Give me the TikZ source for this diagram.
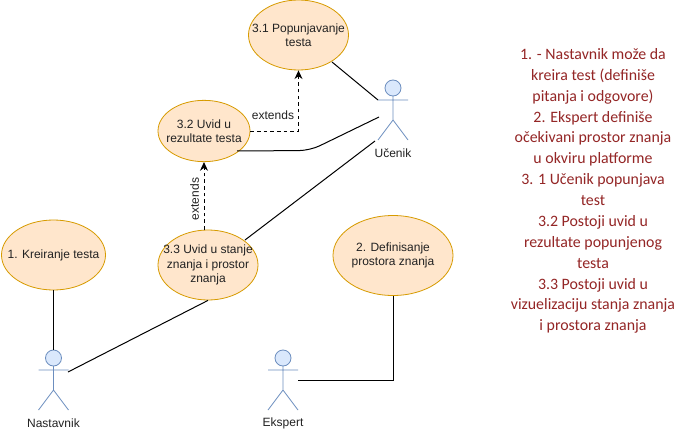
\documentclass[tikz,border=0pt]{standalone}
\usepackage{fontspec}
\setmainfont{Liberation Sans}
\newfontfamily\notefont{Carlito}
\usetikzlibrary{shapes.geometric,arrows.meta}
\definecolor{ucfill}{HTML}{FFE6CC}
\definecolor{ucline}{HTML}{D79B00}
\definecolor{acfill}{HTML}{DAE8FC}
\definecolor{acline}{HTML}{6C8EBF}
\definecolor{notered}{HTML}{942626}
\definecolor{txt}{HTML}{222222}
\tikzset{
  x=0.75pt,y=-0.75pt,
  usecase/.style={ellipse,draw=ucline,fill=ucfill,line width=0.6pt,inner sep=0pt},
  uclabel/.style={align=center,inner sep=0pt,font=\fontsize{9}{10.6}\selectfont,text=txt},
  link/.style={draw=black,line width=0.75pt},
  extline/.style={draw=black,line width=0.75pt,dashed,dash pattern=on 2.6pt off 2.4pt,-{Stealth[length=6.5pt,width=6pt]}},
  actorline/.style={draw=acline,line width=0.6pt},
  actorhead/.style={circle,draw=acline,fill=acfill,line width=0.6pt,minimum size=12pt,inner sep=0pt},
  lbl/.style={font=\fontsize{9}{11.25}\selectfont,text=txt,inner sep=0pt},
}
\newcommand{\stickman}[3]{%
  \node[actorhead] (#1head) at (#2,#3) {};
  \draw[actorline] (#2,#3+8) -- (#2,#3+32) (#2-15,#3+12) -- (#2+15,#3+12)
    (#2-15,#3+52) -- (#2,#3+32) -- (#2+15,#3+52);
}
\begin{document}
\begin{tikzpicture}
\useasboundingbox (0,0) rectangle (679,432);
\fill[white] (0,0) rectangle (679,432);
\node[usecase,minimum width=75pt,minimum height=52.5pt] (u31) at (298.5,35) {};
\node[uclabel] (t31) at (u31.center) {3.1 Popunjavanje\\testa};
\node[usecase,minimum width=69pt,minimum height=46pt] (u32) at (204,131) {};
\node[uclabel] (t32) at (u32.center) {3.2 Uvid u\\rezultate testa};
\node[usecase,minimum width=75pt,minimum height=52.5pt] (u33) at (208,265) {};
\node[uclabel] (t33) at (u33.center) {3.3 Uvid u stanje\\znanja i prostor\\znanja};
\node[usecase,minimum width=78pt,minimum height=52.5pt] (u1) at (53.5,255) {};
\node[uclabel] (t1) at (u1.center) {1. Kreiranje testa};
\node[usecase,minimum width=90pt,minimum height=60pt] (u2) at (393,255.5) {};
\node[uclabel] (t2) at (u2.center) {2. Definisanje\\prostora znanja};
\stickman{uc}{393}{88}
\stickman{na}{53.5}{358}
\stickman{ek}{283}{358}
\node[lbl] (ucl) at (393,153.5) {Učenik};
\node[lbl] (nal) at (53.5,423) {Nastavnik};
\node[lbl] (ekl) at (283,423) {Ekspert};
\coordinate (ucarm) at (378,100);
\coordinate (ucmid) at (379,117);
\coordinate (ucleg) at (375,141);
\coordinate (naarm) at (68,372);
\coordinate (ekarm) at (298,380);
\coordinate (u31a) at (332,62);
\coordinate (u32a) at (237,151);
\coordinate (u33a) at (245,240);
\draw[link] (u31a) -- (ucarm);
\draw[link,rounded corners=8pt] (u32a) -- (310,150.5) -- (ucmid);
\draw[link] (u33a) -- (ucleg);
\draw[link] (naarm) -- (u33.south);
\draw[link] (u1.south) -- (nahead.north);
\draw[link] (u2.south) |- (ekarm);
\draw[extline] (u32.east) -| (u31.south);
\draw[extline] (u33.north -| u32.south) -- (u32.south);
\node[lbl] (e1) at (273,115.5) {extends};
\node[lbl,rotate=90] (e2) at (194.5,199) {extends};
\node[font=\notefont\fontsize{11.9}{15.65}\selectfont,text=notered,align=center,inner sep=0pt] (note) at (593,191) {1. - Nastavnik može da\\kreira test (definiše\\pitanja i odgovore)\\2. Ekspert definiše\\očekivani prostor znanja\\u okviru platforme\\3. 1 Učenik popunjava\\test\\3.2 Postoji uvid u\\rezultate popunjenog\\testa\\3.3 Postoji uvid u\\vizuelizaciju stanja znanja\\i prostora znanja};
\end{tikzpicture}
\end{document}
